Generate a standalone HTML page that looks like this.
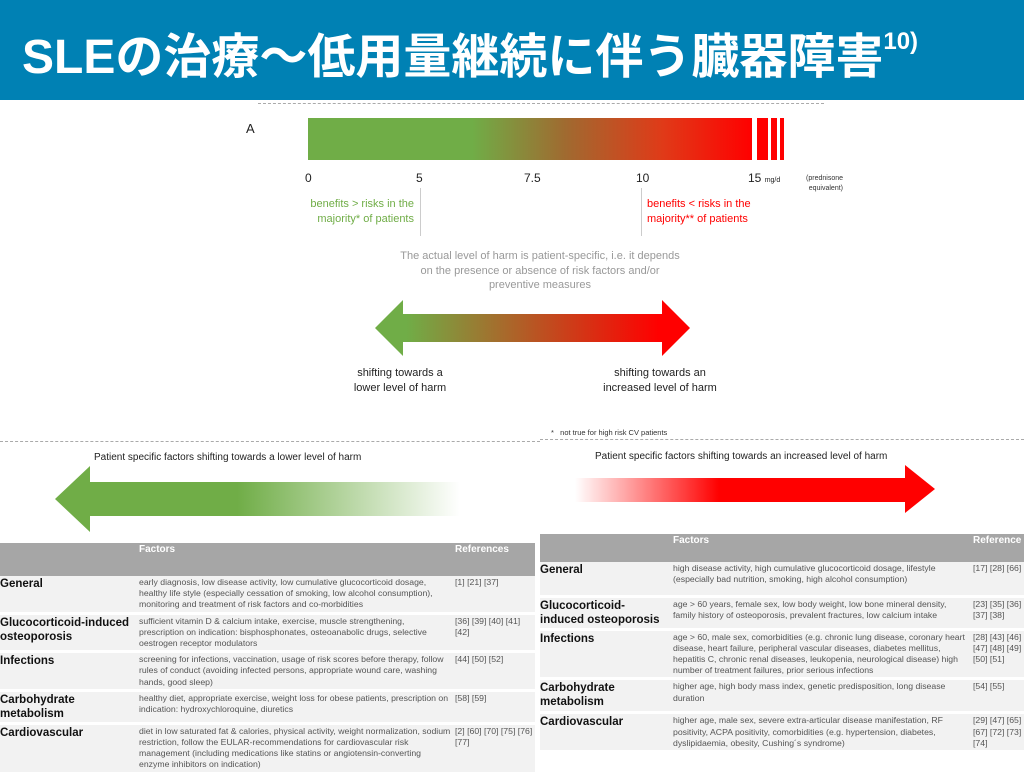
<!DOCTYPE html>
<html><head><meta charset="utf-8"><style>
body{margin:0;width:1024px;height:768px;position:relative;background:#fff;font-family:"Liberation Sans",Arial,sans-serif;overflow:hidden}
.a{position:absolute}
.title{left:0;top:0;width:1024px;height:100px;background:#0081b4}
.tt{left:22px;top:32px;color:#fff;font-family:"Liberation Sans","Noto Sans CJK JP",sans-serif;font-weight:bold;font-size:48px;line-height:52px;white-space:nowrap;letter-spacing:0px}
.tt sup{font-size:24px;position:relative;top:-2px;vertical-align:top;line-height:24px}
.dash{border-top:1px dashed #aaa;height:0}
.t{font-size:11px;color:#222}
table{position:absolute;border-collapse:collapse;font-size:8.7px;color:#555;background:#f2f2f2;table-layout:fixed}
td{vertical-align:top;padding:1px 2px;line-height:11.2px;border-bottom:3px solid #fff;overflow:hidden}
td.l{font-weight:bold;font-size:11.5px;color:#111;line-height:14px;padding-left:0}
tr.h td{background:#a6a6a6;color:#fff;font-weight:bold;font-size:10px;border:none}
</style></head><body>
<div class="a title"></div>
<div class="a tt">SLEの治療～低用量継続に伴う臓器障害<sup>10)</sup></div>
<div class="a dash" style="left:258px;top:103px;width:566px"></div>
<div class="a t" style="left:246px;top:121px;font-size:13px">A</div>
<div class="a" style="left:308px;top:118px;width:444px;height:42px;background:linear-gradient(90deg,#70ad47 0%,#70ad47 37%,#a06a30 58%,#e03a18 80%,#ff0000 100%)"></div>
<div class="a" style="left:757px;top:118px;width:11px;height:42px;background:#f00"></div>
<div class="a" style="left:771px;top:118px;width:6px;height:42px;background:#f00"></div>
<div class="a" style="left:780px;top:118px;width:4px;height:42px;background:#f00"></div>
<div class="a t" style="left:305px;top:171px;font-size:12px">0</div>
<div class="a t" style="left:416px;top:171px;font-size:12px">5</div>
<div class="a t" style="left:524px;top:171px;font-size:12px">7.5</div>
<div class="a t" style="left:636px;top:171px;font-size:12px">10</div>
<div class="a t" style="left:748px;top:171px;font-size:12px">15 <span style="font-size:7px">mg/d</span></div>
<div class="a" style="left:788px;top:174px;font-size:7px;color:#333;text-align:right;width:55px;line-height:10px">(prednisone equivalent)</div>
<div class="a" style="left:420px;top:188px;width:1px;height:48px;background:#ccc"></div>
<div class="a" style="left:641px;top:188px;width:1px;height:48px;background:#ccc"></div>
<div class="a" style="left:280px;top:197px;width:134px;text-align:right;color:#70ad47;font-size:11px;line-height:15px">benefits &gt; risks in the<br>majority* of patients</div>
<div class="a" style="left:647px;top:197px;width:134px;color:#f00;font-size:11px;line-height:15px">benefits &lt; risks in the<br>majority** of patients</div>
<div class="a" style="left:340px;top:249px;width:400px;text-align:center;color:#999;font-size:11px;line-height:14.5px">The actual level of harm is patient-specific, i.e. it depends<br>on the presence or absence of risk factors and/or<br>preventive measures</div>
<svg class="a" style="left:0;top:0" width="1024" height="768">
<defs>
<linearGradient id="g1" x1="375" x2="690" gradientUnits="userSpaceOnUse"><stop offset="0.1" stop-color="#70ad47"/><stop offset="0.9" stop-color="#ff0000"/></linearGradient>
<linearGradient id="g2" x1="55" x2="460" gradientUnits="userSpaceOnUse"><stop offset="0.45" stop-color="#70ad47"/><stop offset="1" stop-color="#70ad47" stop-opacity="0"/></linearGradient>
<linearGradient id="g3" x1="575" x2="935" gradientUnits="userSpaceOnUse"><stop offset="0" stop-color="#ff0000" stop-opacity="0"/><stop offset="0.4" stop-color="#ff0000"/></linearGradient>
</defs>
<polygon points="375,328 403,300 403,314 662,314 662,300 690,328 662,356 662,342 403,342 403,356" fill="url(#g1)"/>
<polygon points="55,499 90,466 90,482 460,482 460,516 90,516 90,532" fill="url(#g2)"/>
<polygon points="575,478 905,478 905,465 935,489 905,513 905,502 575,502" fill="url(#g3)"/>
</svg>
<div class="a t" style="left:330px;top:366px;width:140px;text-align:center;line-height:15px">shifting towards a<br>lower level of harm</div>
<div class="a t" style="left:580px;top:366px;width:160px;text-align:center;line-height:15px">shifting towards an<br>increased level of harm</div>
<div class="a" style="left:551px;top:428px;font-size:7.5px;color:#333">*&nbsp;&nbsp; not true for high risk CV patients</div>
<div class="a dash" style="left:0;top:441px;width:540px"></div>
<div class="a dash" style="left:540px;top:439px;width:484px"></div>
<div class="a" style="left:94px;top:452px;font-size:10px;color:#222">Patient specific factors shifting towards a lower level of harm</div>
<div class="a" style="left:595px;top:451px;font-size:10px;color:#222">Patient specific factors shifting towards an increased level of harm</div>
<table style="left:0;top:543px;width:535px">
<col style="width:137px"><col style="width:316px"><col>
<tr class="h" style="height:33px"><td></td><td>Factors</td><td>References</td></tr>
<tr style="height:36px"><td class="l">General</td><td>early diagnosis, low disease activity, low cumulative glucocorticoid dosage, healthy life style (especially cessation of smoking, low alcohol consumption), monitoring and treatment of risk factors and co-morbidities</td><td>[1] [21] [37]</td></tr>
<tr style="height:36px"><td class="l">Glucocorticoid-induced osteoporosis</td><td>sufficient vitamin D &amp; calcium intake, exercise, muscle strengthening, prescription on indication: bisphosphonates, osteoanabolic drugs, selective oestrogen receptor modulators</td><td>[36] [39] [40] [41] [42]</td></tr>
<tr style="height:36px"><td class="l">Infections</td><td>screening for infections, vaccination, usage of risk scores before therapy, follow rules of conduct (avoiding infected persons, appropriate wound care, washing hands, good sleep)</td><td>[44] [50] [52]</td></tr>
<tr style="height:32px"><td class="l">Carbohydrate metabolism</td><td>healthy diet, appropriate exercise, weight loss for obese patients, prescription on indication: hydroxychloroquine, diuretics</td><td>[58] [59]</td></tr>
<tr style="height:50px"><td class="l">Cardiovascular</td><td>diet in low saturated fat &amp; calories, physical activity, weight normalization, sodium restriction, follow the EULAR-recommendations for cardiovascular risk management (including medications like statins or angiotensin-converting enzyme inhibitors on indication)</td><td>[2] [60] [70] [75] [76] [77]</td></tr>
</table>
<table style="left:540px;top:534px;width:484px">
<col style="width:131px"><col style="width:300px"><col>
<tr class="h" style="height:28px"><td></td><td>Factors</td><td>Reference</td></tr>
<tr style="height:34px"><td class="l">General</td><td>high disease activity, high cumulative glucocorticoid dosage, lifestyle (especially bad nutrition, smoking, high alcohol consumption)</td><td>[17]&nbsp;[28]&nbsp;[66]</td></tr>
<tr style="height:32px"><td class="l">Glucocorticoid-induced osteoporosis</td><td>age &gt; 60 years, female sex, low body weight, low bone mineral density, family history of osteoporosis, prevalent fractures, low calcium intake</td><td>[23]&nbsp;[35]&nbsp;[36] [37]&nbsp;[38]</td></tr>
<tr style="height:44px"><td class="l">Infections</td><td>age &gt; 60, male sex, comorbidities (e.g. chronic lung disease, coronary heart disease, heart failure, peripheral vascular diseases, diabetes mellitus, hepatitis C, chronic renal diseases, leukopenia, neurological disease) high number of treatment failures, prior serious infections</td><td>[28]&nbsp;[43]&nbsp;[46] [47]&nbsp;[48]&nbsp;[49] [50]&nbsp;[51]</td></tr>
<tr style="height:34px"><td class="l">Carbohydrate metabolism</td><td>higher age, high body mass index, genetic predisposition, long disease duration</td><td>[54] [55]</td></tr>
<tr style="height:34px"><td class="l">Cardiovascular</td><td>higher age, male sex, severe extra-articular disease manifestation, RF positivity, ACPA positivity, comorbidities (e.g. hypertension, diabetes, dyslipidaemia, obesity, Cushing´s syndrome)</td><td>[29]&nbsp;[47]&nbsp;[65] [67]&nbsp;[72]&nbsp;[73] [74]</td></tr>
</table>
</body></html>
